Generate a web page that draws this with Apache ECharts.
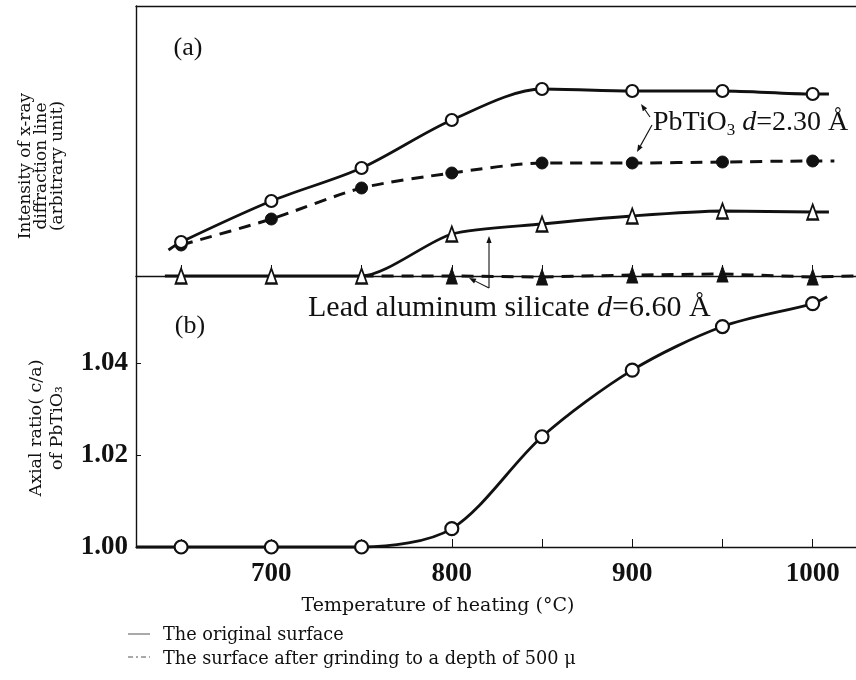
<!DOCTYPE html>
<html><head><meta charset="utf-8">
<script src="https://cdn.jsdelivr.net/npm/echarts@6/dist/echarts.min.js"></script>
<style>html,body{margin:0;padding:0;background:#fff}#c{width:856px;height:680px}</style>
</head><body><div id="c"></div>
<script>
// ---- data ----
const temps = [650, 700, 750, 800, 850, 900, 950, 1000];
// (a) intensity, arbitrary units (0 = baseline)
const pbOrig   = [34, 75, 108, 156, 187, 185, 185, 182];   // PbTiO3, original surface (open circles)
const pbGround = [31, 57, 88, 103, 113, 113, 114, 115];    // PbTiO3, after grinding (filled circles)
const lasOrig  = [0, 0, 0, 42, 52, 60, 65, 64];            // lead aluminum silicate, original (open triangles)
const lasGroundTemps = [800, 850, 900, 950, 1000];
const lasGround = [0, -1, 1, 2, -1];                        // lead aluminum silicate, after grinding (filled triangles)
// (b) axial ratio c/a of PbTiO3
const ratioOrig = [1.000, 1.000, 1.000, 1.004, 1.024, 1.0385, 1.048, 1.053];
// line run-outs beyond the first/last measured point (drawn without markers)
const pbOrigEnds   = [[643, 26], [1009, 182]];
const pbGroundEnds = [null, [1012, 115]];
const lasOrigEnds  = [[641, 0], [1009, 64]];
const lasGroundEnds = [[750, 0], [1024, 0]];
const ratioEnds    = [[625, 1.000], [1008, 1.0545]];
// axes
const xMin = 625, xMax = 1024;
const xTicks = [650, 700, 750, 800, 850, 900, 950, 1000];
const xLabels = [700, 800, 900, 1000];
const ratioTicks = [1.00, 1.02, 1.04];

function build(ts, vs, ends) {
  const d = ts.map((t, i) => [t, vs[i]]);
  if (ends && ends[0]) d.unshift({ value: ends[0], symbol: 'none' });
  if (ends && ends[1]) d.push({ value: ends[1], symbol: 'none' });
  return d;
}

const serif = 'Liberation Serif';
const ink = '#111';

function arrow(x1, y1, x2, y2) {
  const dx = x2 - x1, dy = y2 - y1, L = Math.hypot(dx, dy);
  const ux = dx / L, uy = dy / L, hl = 7, hw = 2.6;
  const bx = x2 - ux * hl, by = y2 - uy * hl;
  return {
    type: 'group', silent: true, children: [
      { type: 'line', shape: { x1, y1, x2: bx, y2: by }, style: { stroke: ink, lineWidth: 1.1 } },
      { type: 'polygon', shape: { points: [[x2, y2], [bx - uy * hw, by + ux * hw], [bx + uy * hw, by - ux * hw]] }, style: { fill: ink } }
    ]
  };
}

const chart = echarts.init(document.getElementById('c'), null, { renderer: 'canvas' });
const axisLine = { show: true, onZero: false, lineStyle: { color: ink, width: 1.4 } };

const option = {
  animation: false,
  backgroundColor: '#fff',
  grid: [
    { left: 136, top: 6, width: 720, height: 270 },
    { left: 136, top: 276, width: 720, height: 271 }
  ],
  xAxis: [
    { type: 'value', gridIndex: 0, min: xMin, max: xMax, position: 'bottom',
      axisLine, splitLine: { show: false },
      axisTick: { show: true, inside: true, length: 11, customValues: xTicks, lineStyle: { color: ink, width: 1 } },
      axisLabel: { show: false } },
    { type: 'value', gridIndex: 1, min: xMin, max: xMax, position: 'bottom',
      axisLine, splitLine: { show: false },
      axisTick: { show: true, inside: true, length: 8, customValues: xTicks, lineStyle: { color: ink, width: 1 } },
      axisLabel: { show: true, customValues: xLabels, margin: 14, formatter: v => String(v),
        fontFamily: serif, fontWeight: 'bold', fontSize: 27, color: ink } },
    { type: 'value', gridIndex: 0, min: xMin, max: xMax, position: 'top',
      axisLine, splitLine: { show: false }, axisTick: { show: false }, axisLabel: { show: false } }
  ],
  yAxis: [
    { type: 'value', gridIndex: 0, min: 0, max: 270, axisLine,
      axisTick: { show: false }, axisLabel: { show: false }, splitLine: { show: false } },
    { type: 'value', gridIndex: 1, min: 1.0, max: 1.059, axisLine, splitLine: { show: false },
      axisTick: { show: true, inside: true, length: 5, customValues: ratioTicks, lineStyle: { color: ink, width: 1 } },
      axisLabel: { show: true, customValues: ratioTicks, margin: 8, formatter: v => v.toFixed(2),
        fontFamily: serif, fontWeight: 'bold', fontSize: 27, color: ink } }
  ],
  series: [
    { name: 'PbTiO3 ground', type: 'line', xAxisIndex: 0, yAxisIndex: 0, z: 2,
      data: build(temps, pbGround, pbGroundEnds), smooth: 0.25,
      lineStyle: { color: ink, width: 3, type: [12, 8] },
      symbol: 'circle', symbolSize: 12, itemStyle: { color: ink, borderColor: ink, borderWidth: 1 } },
    { name: 'PbTiO3 original', type: 'line', xAxisIndex: 0, yAxisIndex: 0, z: 3,
      data: build(temps, pbOrig, pbOrigEnds), smooth: 0.3,
      lineStyle: { color: ink, width: 2.8 },
      symbol: 'circle', symbolSize: 12, itemStyle: { color: '#fff', borderColor: ink, borderWidth: 2.2 } },
    { name: 'LAS ground', type: 'line', xAxisIndex: 0, yAxisIndex: 0, z: 2, clip: false,
      data: build(lasGroundTemps, lasGround, lasGroundEnds),
      lineStyle: { color: ink, width: 3, type: [12, 8] },
      symbol: 'triangle', symbolSize: [11, 16], itemStyle: { color: ink, borderColor: ink, borderWidth: 1 } },
    { name: 'LAS original', type: 'line', xAxisIndex: 0, yAxisIndex: 0, z: 3, clip: false,
      data: build(temps, lasOrig, lasOrigEnds), smooth: 0.25,
      lineStyle: { color: ink, width: 2.8 },
      symbol: 'triangle', symbolSize: [11, 15], itemStyle: { color: '#fff', borderColor: ink, borderWidth: 2 } },
    { name: 'Axial ratio', type: 'line', xAxisIndex: 1, yAxisIndex: 1, z: 3, clip: false,
      data: build(temps, ratioOrig, ratioEnds), smooth: 0.3,
      lineStyle: { color: ink, width: 2.8 },
      symbol: 'circle', symbolSize: 13, itemStyle: { color: '#fff', borderColor: ink, borderWidth: 2.2 } }
  ],
  graphic: [
    { type: 'text', x: 188, y: 48, silent: true, style: { text: '(a)', font: '26px "Liberation Serif"', fill: ink, align: 'center', verticalAlign: 'middle' } },
    { type: 'text', x: 190, y: 326, silent: true, style: { text: '(b)', font: '26px "Liberation Serif"', fill: ink, align: 'center', verticalAlign: 'middle' } },
    { type: 'text', x: 653, y: 107, silent: true, style: {
        text: '{n|PbTiO}{s|3}{n| }{i|d}{n|=2.30 Å}', fill: ink,
        rich: {
          n: { fontFamily: serif, fontSize: 28, lineHeight: 32, fill: ink },
          i: { fontFamily: serif, fontSize: 28, lineHeight: 32, fontStyle: 'italic', fill: ink },
          s: { fontFamily: serif, fontSize: 17, lineHeight: 14, verticalAlign: 'bottom', fill: ink }
        } } },
    { type: 'text', x: 308, y: 291, silent: true, style: {
        text: '{n|Lead aluminum silicate }{i|d}{n|=6.60 Å}', fill: ink,
        rich: {
          n: { fontFamily: serif, fontSize: 30, lineHeight: 34, fill: ink },
          i: { fontFamily: serif, fontSize: 30, lineHeight: 34, fontStyle: 'italic', fill: ink }
        } } },
    arrow(650, 117, 641, 104),
    arrow(652, 125, 637, 152),
    arrow(489, 288, 489, 236),
    arrow(489, 288, 469, 278),
    { type: 'text', x: 42, y: 166, rotation: Math.PI / 2, silent: true, style: {
        text: 'Intensity of x-ray\ndiffraction line\n(arbitrary unit)', font: '17px "DejaVu Serif"', lineHeight: 16,
        fill: ink, align: 'center', verticalAlign: 'middle' } },
    { type: 'text', x: 47, y: 428, rotation: Math.PI / 2, silent: true, style: {
        text: 'Axial ratio( c/a)\nof PbTiO₃', font: '17.5px "DejaVu Serif"', lineHeight: 21,
        fill: ink, align: 'center', verticalAlign: 'middle' } },
    { type: 'text', x: 438, y: 606, silent: true, style: {
        text: 'Temperature of heating (°C)', font: '19px "DejaVu Serif"', fill: ink, align: 'center', verticalAlign: 'middle' } },
    { type: 'line', silent: true, shape: { x1: 128, y1: 634, x2: 150, y2: 634 }, style: { stroke: '#555', lineWidth: 1 } },
    { type: 'line', silent: true, shape: { x1: 128, y1: 657, x2: 150, y2: 657 }, style: { stroke: '#555', lineWidth: 1, lineDash: [5, 3, 2, 3] } },
    { type: 'text', x: 163, y: 635, silent: true, style: {
        text: 'The original surface', font: '17.7px "DejaVu Serif"', fill: ink, align: 'left', verticalAlign: 'middle' } },
    { type: 'text', x: 163, y: 659, silent: true, style: {
        text: 'The surface after grinding to a depth of 500 μ', font: '17.7px "DejaVu Serif"', fill: ink, align: 'left', verticalAlign: 'middle' } }
  ]
};
chart.setOption(option);
</script>
</body></html>
